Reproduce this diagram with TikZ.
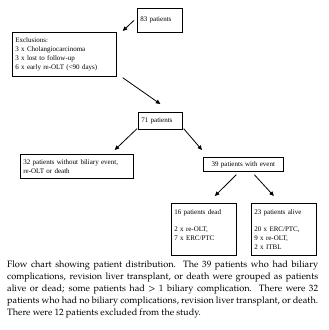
\documentclass[tikz,border=0pt]{standalone}
\usepackage{fontspec}
\setmainfont{Liberation Serif}
\newfontfamily\capfont{TeX Gyre Pagella}
\newcommand{\capsetup}{\capfont\fontsize{9.2}{11.7}\selectfont\spaceskip=0.23em plus 0.4em minus 0.15em\relax}
\usetikzlibrary{arrows.meta}
\tikzset{
  box/.style={draw, line width=0.7pt, inner xsep=3pt, inner ysep=1.5pt, align=left,
    anchor=north west, font=\fontsize{7}{8.7}\selectfont},
  arr/.style={line width=0.8pt, -{Triangle[length=4.5pt,width=4pt]}}
}
\begin{document}
\begin{tikzpicture}[x=1pt,y=-1pt]
\useasboundingbox (0,0) rectangle (329,330);
\node[box, text width=39pt, minimum height=24pt] (n83) at (137,8) {83 patients};
\node[box, text width=98pt, minimum height=44pt] (excl) at (12,32)
  {Exclusions:\\3 x Cholangiocarcinoma\\3 x lost to follow-up\\6 x early re-OLT (<90 days)};
\node[box, text width=38pt, minimum height=17pt] (n71) at (138,112) {71 patients};
\node[box, text width=107pt, minimum height=24pt] (n32) at (20,154)
  {32 patients without biliary event,\\re-OLT or death};
\node[box, text width=74pt, minimum height=14pt, align=center] (n39) at (203,157) {39 patients with event};
\node[box, text width=59pt, minimum height=52pt] (n16) at (171,203)
  {16 patients dead\\[8.7pt]2 x re-OLT,\\7 x ERC/PTC\\\mbox{}};
\node[box, text width=59pt, minimum height=52pt] (n23) at (251,203)
  {23 patients alive\\[8.7pt]20 x ERC/PTC,\\9 x re-OLT,\\2 x ITBL};
\draw[arr] ([xshift=-3pt]n83.west) -- ([shift={(6,-1)}]excl.north east);
\draw[arr] ([shift={(6,1)}]excl.south east) -- ([shift={(0,-8)}]n71.north);
\draw[arr] ([shift={(-1,-1)}]n71.south west) -- ([shift={(-19,-4)}]n32.north east);
\draw[arr] ([shift={(1,-1)}]n71.south east) -- ([shift={(-1,-7)}]n39.north west);
\draw[arr] ([shift={(-7,3)}]n39.south) -- ([shift={(11,-7)}]n16.north);
\draw[arr] ([shift={(11,3)}]n39.south) -- ([shift={(-10,-7)}]n23.north);
\node[anchor=north west, inner sep=0pt, text width=311pt, align=justify] (cap) at (7,261)
  {\capsetup Flow chart showing patient distribution. The 39 patients who had biliary\linebreak
   complications, revision liver transplant, or death were grouped as patients\linebreak
   alive or dead; some patients had > 1 biliary complication. There were 32\linebreak
   patients who had no biliary complications, revision liver transplant, or death.\linebreak
   There were 12 patients excluded from the study.};
\end{tikzpicture}
\end{document}
